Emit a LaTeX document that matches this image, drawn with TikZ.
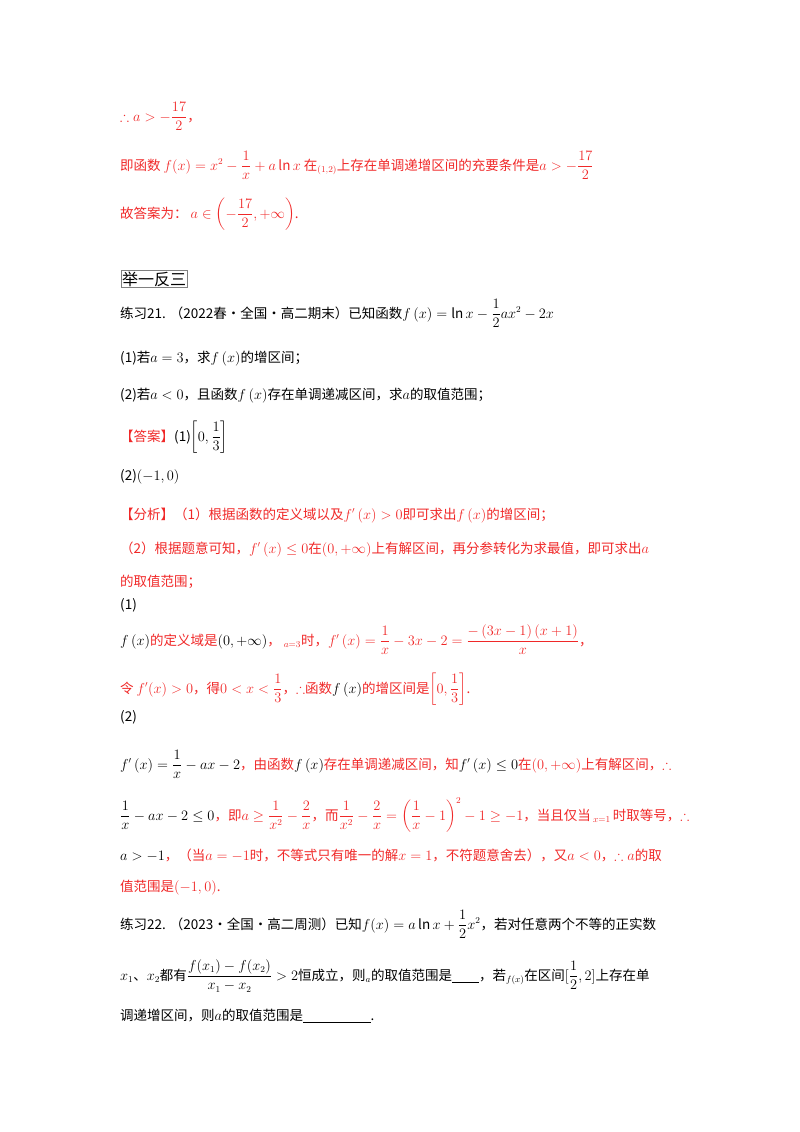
\documentclass[tikz,border=0pt]{standalone}
\usepackage{fontspec}
\usepackage{amsmath,amssymb}
\setmainfont{Noto Sans CJK SC}
\definecolor{rd}{RGB}{240,40,40}
\newcommand{\R}[1]{\textcolor{rd}{#1}}
\begin{document}
\begin{tikzpicture}[x=1pt,y=-1pt,
  ln/.style={anchor=base west,inner sep=0pt,font=\fontsize{13.5}{16}\selectfont}]
\useasboundingbox (0,0) rectangle (800,1132);
\node[ln] (l1) at (120,121) {\R{$\therefore a>-\dfrac{17}{2}$，}};
\node[ln] (l2) at (120,170) {\R{即函数 $f(x)=x^2-\dfrac1x+a\ln x$ 在$_{(1,2)}$上存在单调递增区间的充要条件是$a>-\dfrac{17}{2}$}};
\node[ln] (l3) at (120,218) {\R{故答案为：\ $a\in\left(-\dfrac{17}{2},+\infty\right)$.}};
\node[ln,draw=black!50,line width=0.4pt,inner sep=1pt,font=\fontsize{16}{18}\selectfont] (l4) at (121,285) {举一反三};
\node[ln] (l5) at (120,318) {练习21. （2022春·全国·高二期末）已知函数$f\left(x\right)=\ln x-\dfrac12ax^2-2x$};
\node[ln] (l6) at (120,362) {(1)若$a=3$，求$f\left(x\right)$的增区间；};
\node[ln] (l7) at (120,399) {(2)若$a<0$，且函数$f\left(x\right)$存在单调递减区间，求$a$的取值范围；};
\node[ln] (l8) at (120,441) {\R{【答案】}(1)$\left[0,\dfrac13\right]$};
\node[ln] (l9) at (120,480) {(2)$\left(-1,0\right)$};
\node[ln] (l10) at (120,519) {\R{【分析】（1）根据函数的定义域以及$f'\left(x\right)>0$即可求出$f\left(x\right)$的增区间；}};
\node[ln] (l11) at (120,553) {\R{（2）根据题意可知，$f'\left(x\right)\le 0$在$\left(0,+\infty\right)$上有解区间，再分参转化为求最值，即可求出$a$}};
\node[ln] (l12) at (120,586) {\R{的取值范围；}};
\node[ln] (l13) at (120,609) {(1)};
\node[ln] (l14) at (120,645) {$f\left(x\right)$\R{的定义域是}$\left(0,+\infty\right)$\R{，\ $_{a=3}$时，$f'\left(x\right)=\dfrac1x-3x-2=\dfrac{-\left(3x-1\right)\left(x+1\right)}{x}$，}};
\node[ln] (l15) at (120,693) {\R{令 $f'(x)>0$，得$0<x<\dfrac13$，$\therefore$函数}$f\left(x\right)$\R{的增区间是$\left[0,\dfrac13\right]$.}};
\node[ln] (l16) at (120,721) {(2)};
\node[ln] (l17) at (120,769) {$f'\left(x\right)=\dfrac1x-ax-2$\R{，由函数}$f\left(x\right)$\R{存在单调递减区间，知}$f'\left(x\right)\le0$\R{在$\left(0,+\infty\right)$上有解区间，$\therefore$}};
\node[ln] (l18) at (120,820) {$\dfrac1x-ax-2\le0$\R{，即$a\ge\dfrac1{x^2}-\dfrac2x$，而$\dfrac1{x^2}-\dfrac2x=\left(\dfrac1x-1\right)^2-1\ge-1$，当且仅当\,$_{x=1}$\,时取等号，$\therefore$}};
\node[ln] (l19) at (120,860) {$a>-1$\R{，（当$a=-1$时，不等式只有唯一的解$x=1$，不符题意舍去），又$a<0$，$\therefore a$的取}};
\node[ln] (l20) at (120,891) {\R{值范围是$\left(-1,0\right)$.}};
\node[ln] (l21) at (120,929) {练习22. （2023·全国·高二周测）已知$f(x)=a\ln x+\dfrac12x^2$，若对任意两个不等的正实数};
\node[ln] (l22) at (120,980) {$x_1$、$x_2$都有$\dfrac{f(x_1)-f(x_2)}{x_1-x_2}>2$恒成立，则$_a$的取值范围是\underline{\hspace{2em}}，若$_{f(x)}$在区间$[\dfrac12,2]$上存在单};
\node[ln] (l23) at (120,1020) {调递增区间，则$a$的取值范围是\underline{\hspace{5em}}.};
\end{tikzpicture}
\end{document}
